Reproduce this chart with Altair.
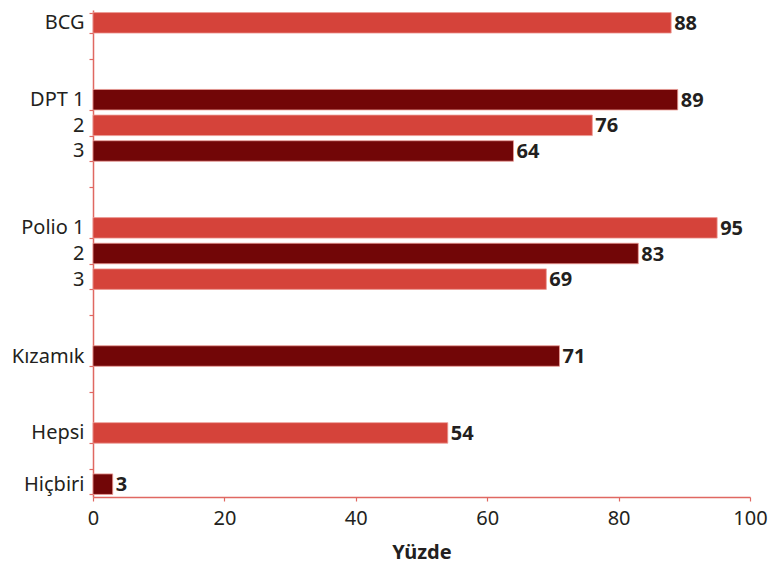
import altair as alt
import pandas as pd

# ---- data ----
categories = ["BCG", "DPT 1", "DPT 2", "DPT 3", "Polio 1", "Polio 2", "Polio 3",
              "Kızamık", "Hepsi", "Hiçbiri"]
display_labels = ["BCG", "DPT 1", "2", "3", "Polio 1", "2", "3",
                  "Kızamık", "Hepsi", "Hiçbiri"]
groups = ["BCG", "DPT", "DPT", "DPT", "Polio", "Polio", "Polio",
          "Kızamık", "Hepsi", "Hiçbiri"]
values = [88, 89, 76, 64, 95, 83, 69, 71, 54, 3]
gap_after_group = {"BCG": 2, "DPT": 2, "Polio": 2, "Kızamık": 2, "Hepsi": 1}
x_ticks = [0, 20, 40, 60, 80, 100]

LIGHT = "#d5433a"
DARK = "#720607"
AXIS = "#e06862"
TEXT = "#231f20"
FONT = "Noto Sans"

df = pd.DataFrame({
    "cat": categories,
    "value": values,
    "shade": [i % 2 for i in range(len(categories))],
})

# build band domain with empty spacer slots between groups
domain, tick_values = [], []
for i, (c, g) in enumerate(zip(categories, groups)):
    domain.append(c)
    tick_values.append(c)
    last_in_group = (i == len(categories) - 1) or groups[i + 1] != g
    if last_in_group and g in gap_after_group:
        for k in range(gap_after_group[g]):
            sp = f"_{g}_{k}"
            domain.append(sp)
            if k == 0:
                tick_values.append(sp)

label_expr = "''"
for c, lab in zip(categories, display_labels):
    label_expr = f"datum.value == '{c}' ? '{lab}' : ({label_expr})"

y_enc = alt.Y(
    "cat:N",
    scale=alt.Scale(domain=domain, paddingInner=0.2, paddingOuter=0.1),
    axis=alt.Axis(
        title=None,
        values=tick_values,
        labelExpr=label_expr,
        tickBand="extent",
        tickSize=4,
        labelPadding=5,
        labelFontSize=20,
    ),
)

x_enc = alt.X(
    "value:Q",
    scale=alt.Scale(domain=[0, 100], nice=False),
    axis=alt.Axis(
        title="Yüzde",
        values=x_ticks,
        grid=False,
        tickSize=4,
        labelPadding=7,
        labelFlush=False,
        labelFontSize=20,
        titleFontSize=20,
        titleFontWeight="bold",
        titlePadding=14,
    ),
)

bars = alt.Chart(df).mark_bar(stroke="#ec9a94", strokeWidth=0.8).encode(
    x=x_enc,
    y=y_enc,
    color=alt.Color("shade:O", scale=alt.Scale(domain=[0, 1], range=[LIGHT, DARK]), legend=None),
)

labels = alt.Chart(df).mark_text(
    align="left", baseline="middle", dx=3, dy=1, fontSize=20, fontWeight="bold",
    color=TEXT, font=FONT,
).encode(
    x="value:Q",
    y=alt.Y("cat:N"),
    text="value:Q",
)

chart = (bars + labels).properties(
    width=657,
    height=487,
    autosize=alt.AutoSizeParams(type="none"),
    padding={"left": 85, "top": 2, "right": 20, "bottom": 70},
).configure_view(stroke=None).configure_axis(
    domainColor=AXIS,
    tickColor=AXIS,
    domainWidth=1.5,
    tickWidth=1.2,
    labelColor=TEXT,
    titleColor=TEXT,
    labelFont=FONT,
    titleFont=FONT,
)

chart.save("out.html", embed_options={"renderer": "svg", "actions": False})
